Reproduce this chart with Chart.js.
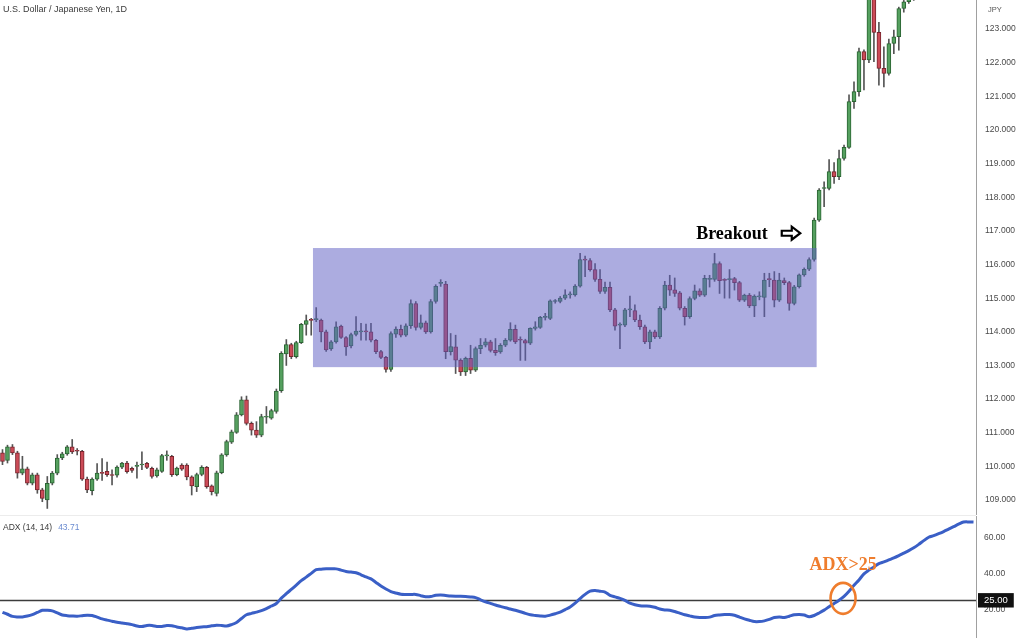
<!DOCTYPE html>
<html><head><meta charset="utf-8">
<script src="https://cdn.jsdelivr.net/npm/chart.js@4.4.1/dist/chart.umd.min.js"></script>
<style>
html,body{margin:0;padding:0;background:#fff;width:1024px;height:638px;overflow:hidden;font-family:"Liberation Sans",Arial,sans-serif}
#top{position:absolute;left:0;top:0;width:1024px;height:515px}
#bot{position:absolute;left:0;top:516px;width:1024px;height:122px}
#sep{position:absolute;left:0;top:515px;width:976px;height:1px;background:#ececec}
.lbl{position:absolute;font-size:9px;color:#3a3a3a;white-space:nowrap;line-height:10px}
</style></head><body>
<div id="top"><canvas id="c1"></canvas></div>
<div id="sep"></div>
<div id="bot"><canvas id="c2"></canvas></div>
<div class="lbl" style="left:3px;top:4px">U.S. Dollar / Japanese Yen, 1D</div>
<div class="lbl" style="left:988px;top:5px;font-size:7.5px;color:#555">JPY</div>
<div class="lbl" style="left:3px;top:522px;font-size:8.5px">ADX (14, 14)<span style="color:#6a8bd0;margin-left:6px">43.71</span></div>
<script>
// ---- data ----
const open = [110.40,110.18,110.58,110.40,109.80,109.93,109.50,109.75,109.30,109.00,
109.50,109.80,110.25,110.37,110.58,110.46,110.45,109.62,109.28,109.62,
109.80,109.85,109.74,109.74,109.98,110.10,109.94,110.00,110.04,110.09,
109.94,109.72,109.85,110.31,110.30,109.75,110.04,110.04,109.69,109.40,
109.76,109.97,109.42,109.20,109.81,110.34,110.72,111.01,111.53,111.98,
111.28,111.08,110.93,111.46,111.43,111.63,112.25,113.34,113.62,113.26,
113.68,114.22,114.35,114.36,114.35,114.00,113.49,113.70,114.17,113.83,
113.58,113.92,114.00,114.01,114.00,113.75,113.41,113.24,112.88,113.93,
114.07,113.90,114.18,114.84,114.13,114.27,114.00,114.90,115.44,115.42,
113.41,113.55,113.16,112.81,113.21,112.86,113.50,113.60,113.70,113.45,
113.40,113.60,113.75,114.07,113.76,113.74,113.66,114.10,114.13,114.43,
114.40,114.90,114.90,115.00,115.10,115.10,115.36,116.14,116.12,115.85,
115.56,115.20,115.32,114.65,114.20,114.20,114.65,114.63,114.35,114.15,
113.70,114.00,113.85,114.70,115.39,115.25,115.16,114.70,114.45,114.99,
115.22,115.09,115.56,115.56,116.03,115.54,115.55,115.58,115.46,114.94,
115.09,114.77,115.04,115.02,115.56,115.54,114.94,115.52,115.46,114.84,
115.34,115.69,115.86,116.15,117.32,118.26,118.26,118.76,118.61,119.15,
119.48,120.84,121.14,122.33,122.08,124.10,122.90,121.83,121.68,122.57,
122.77,123.61,123.81,123.95,null,null,null,null,null,null,
null,null,null,null,null,null];
const high = [110.50,110.63,110.65,110.45,110.30,109.98,109.80,109.80,109.35,109.70,
109.85,110.35,110.42,110.62,110.80,110.53,110.48,109.68,109.66,110.08,
110.23,110.13,109.90,110.02,110.12,110.15,109.98,110.13,110.43,110.12,
109.98,109.95,110.36,110.46,110.33,109.98,110.08,110.08,109.72,109.80,
110.02,110.00,109.45,109.86,110.38,110.78,111.08,111.60,112.07,112.09,
111.32,111.33,111.55,111.78,111.70,112.30,113.41,113.77,113.66,113.72,
114.25,114.50,114.40,114.72,114.38,114.05,113.74,114.30,114.20,113.86,
113.96,114.45,114.25,114.23,114.25,113.78,113.45,113.27,114.00,114.15,
114.20,114.24,114.95,114.90,114.50,114.32,114.96,115.40,115.55,115.50,
113.95,113.90,113.20,113.25,113.60,113.55,113.80,113.80,113.75,113.80,
113.65,113.80,114.27,114.20,113.85,113.78,114.12,114.30,114.46,114.55,
114.95,114.96,115.05,115.25,115.19,115.40,116.33,116.25,116.18,116.03,
115.85,115.48,115.48,114.70,114.27,114.70,115.06,114.80,114.50,114.20,
114.05,114.05,114.75,115.50,115.68,115.60,115.20,114.75,115.04,115.39,
115.28,115.68,115.68,116.33,116.08,115.58,115.85,115.62,115.50,115.12,
115.14,115.10,115.19,115.74,115.74,115.79,115.74,115.60,115.50,115.38,
115.72,115.90,116.20,117.38,118.26,118.46,119.12,119.03,119.40,119.55,
121.04,121.43,122.43,122.38,124.20,124.30,123.20,122.47,122.70,122.97,
123.65,123.85,124.10,124.20,null,null,null,null,null,null,
null,null,null,null,null,null];
const low = [110.05,110.10,110.35,109.65,109.75,109.45,109.45,109.20,108.95,108.75,
109.45,109.75,110.20,110.33,110.38,110.34,109.58,109.22,109.15,109.58,
109.58,109.70,109.45,109.68,109.93,109.80,109.82,109.65,109.90,109.93,
109.65,109.68,109.82,110.18,109.70,109.72,109.88,109.60,109.15,109.25,
109.72,109.35,109.15,109.12,109.78,110.30,110.68,110.98,111.50,111.23,
110.93,110.86,110.88,111.28,111.40,111.58,112.20,113.00,113.20,113.22,
113.65,113.90,113.90,114.30,113.70,113.42,113.45,113.66,113.80,113.30,
113.52,113.88,113.75,113.75,113.70,113.35,113.20,112.80,112.82,113.83,
113.85,113.86,114.10,114.05,114.08,113.95,113.96,114.85,115.35,113.20,
113.31,112.76,112.70,112.70,112.76,112.82,113.35,113.55,113.40,113.30,
113.36,113.56,113.72,113.65,113.15,113.15,113.62,114.05,114.10,114.35,
114.36,114.85,114.86,114.96,115.00,115.06,115.33,115.64,115.80,115.50,
115.14,115.14,114.60,114.05,113.50,114.15,114.45,114.30,114.07,113.65,
113.50,113.80,113.80,114.65,115.08,115.05,114.65,114.20,114.40,114.95,
115.05,115.05,115.33,115.50,115.14,115.00,115.00,115.24,114.90,114.90,
114.72,114.45,114.95,114.45,115.34,114.74,114.90,115.40,114.64,114.80,
115.30,115.65,115.82,116.10,117.28,117.72,118.22,118.41,118.52,119.10,
119.45,120.64,121.00,121.19,122.00,122.03,121.33,121.28,121.63,122.27,
122.37,123.50,123.76,123.85,null,null,null,null,null,null,
null,null,null,null,null,null];
const close = [110.15,110.58,110.40,109.80,109.93,109.50,109.75,109.30,109.05,109.50,
109.80,110.25,110.37,110.58,110.43,110.45,109.62,109.30,109.62,109.80,
109.79,109.75,109.73,109.98,110.10,109.84,109.88,110.01,110.05,109.97,
109.70,109.90,110.32,110.32,109.75,109.95,109.92,109.69,109.42,109.76,
109.97,109.40,109.25,109.81,110.34,110.74,111.03,111.53,111.98,111.28,
111.08,110.93,111.48,111.47,111.66,112.24,113.36,113.62,113.26,113.68,
114.22,114.33,114.34,114.37,114.00,113.46,113.70,114.15,113.83,113.55,
113.92,114.02,114.01,114.00,113.75,113.41,113.24,112.88,113.95,114.08,
113.90,114.18,114.84,114.13,114.27,114.00,114.90,115.35,115.45,113.41,
113.56,113.16,112.81,113.21,112.86,113.50,113.60,113.70,113.45,113.38,
113.60,113.75,114.07,113.70,113.75,113.66,114.10,114.15,114.43,114.44,
114.92,114.93,115.00,115.10,115.11,115.36,116.15,116.13,115.85,115.56,
115.20,115.32,114.65,114.17,114.21,114.65,114.66,114.35,114.15,113.70,
114.00,113.85,114.70,115.39,115.24,115.14,114.70,114.45,114.99,115.22,
115.09,115.59,115.57,116.03,115.52,115.53,115.56,115.46,114.94,115.09,
114.77,115.06,115.05,115.54,115.55,114.94,115.54,115.46,114.84,115.34,
115.69,115.86,116.15,117.32,118.21,118.27,118.76,118.61,119.15,119.48,
120.84,121.14,122.33,122.08,124.10,122.90,121.83,121.68,122.57,122.77,
123.61,123.81,123.95,124.10,null,null,null,null,null,null,
null,null,null,null,null,null];
const adx = [18.3,17.2,16.0,15.7,15.7,16.2,17.0,18.2,19.4,19.4,
19.1,18.0,16.8,16.4,16.2,16.1,16.4,16.7,16.5,15.6,
14.6,13.9,13.3,12.7,12.3,11.9,11.4,10.6,10.3,10.9,
10.9,10.4,10.4,10.9,10.8,10.1,9.6,9.0,9.3,9.8,
10.1,10.2,10.7,11.1,10.9,10.6,11.4,12.6,14.8,16.9,
17.7,18.4,19.2,20.4,21.8,23.2,26.2,28.7,31.1,33.5,
36.0,38.0,40.1,42.2,42.4,42.6,42.6,42.6,41.9,41.1,
40.8,40.4,39.3,38.1,37.0,35.0,33.0,31.3,29.9,29.1,
28.4,28.3,28.3,28.3,27.6,27.0,27.1,27.8,28.0,27.7,
27.4,27.3,27.3,27.2,26.9,26.5,25.3,24.2,23.3,22.4,
21.6,20.8,20.1,19.4,18.6,17.7,16.9,16.5,16.2,16.1,
16.7,17.5,18.4,19.8,21.3,23.4,26.0,28.3,30.2,30.5,
30.1,29.6,27.8,26.9,26.1,25.0,23.4,22.5,22.0,21.8,
21.7,21.1,20.1,19.6,19.4,18.7,17.8,16.9,16.3,15.7,
15.4,15.4,15.6,16.5,16.8,17.0,17.1,16.6,15.6,14.6,
13.8,13.1,13.1,13.5,14.3,15.4,15.6,15.4,16.1,16.9,
17.1,16.8,15.8,16.5,17.9,19.5,21.4,23.2,25.0,27.2,
30.1,33.4,36.4,39.8,41.9,43.7,45.5,46.5,47.6,48.7,
50.0,51.4,52.8,54.4,56.3,58.4,60.3,61.2,62.3,63.5,
64.9,66.2,67.6,68.8,68.9,68.8];
const categories = adx.map((_, i) => 'Day ' + (i + 1));
const priceTicks = [109,110,111,112,113,114,115,116,117,118,119,120,121,122,123];
const adxTicks = [20,25,40,60];
const adxLevel = 25;
// consolidation box and annotations, in data units (category index, value)
const rangeBox = {from: 62.35, to: 163.5, low: 112.95, high: 116.49};
const breakoutNote = {text: 'Breakout', at: 146.5, price: 116.93, arrowAt: 158.3};
const adxNote = {text: 'ADX>25', at: 168.8, value: 44.4, ringValue: 26.1};

// ---- styles ----
const UP = '#55a05f', UP_B = '#2b6433', DN = '#cc4b57', DN_B = '#77252d', WICK = '#555555';
const up = close.map((c, i) => c >= open[i]);
const isLevel = c => !!(c.tick && c.tick.value === adxLevel);

function fixAxis(s) { s.width = 48; s.paddingTop = 0; s.paddingBottom = 0; }

const boxPlugin = {
  id: 'boxPlugin',
  afterDatasetsDraw(chart) {
    const {ctx, scales: {x, y}} = chart;
    const x0 = x.getPixelForValue(rangeBox.from), x1 = x.getPixelForValue(rangeBox.to);
    const y0 = y.getPixelForValue(rangeBox.high), y1 = y.getPixelForValue(rangeBox.low);
    ctx.save();
    ctx.fillStyle = 'rgba(96,96,196,0.52)';
    ctx.fillRect(x0, y0, x1 - x0, y1 - y0);
    const ty = y.getPixelForValue(breakoutNote.price);
    ctx.fillStyle = '#000';
    ctx.font = 'bold 18px "Liberation Serif", "Times New Roman", serif';
    ctx.textAlign = 'center'; ctx.textBaseline = 'middle';
    ctx.fillText(breakoutNote.text, x.getPixelForValue(breakoutNote.at), ty + 1);
    const ax = x.getPixelForValue(breakoutNote.arrowAt);
    ctx.beginPath();
    ctx.moveTo(ax - 9, ty - 2.5); ctx.lineTo(ax + 1, ty - 2.5); ctx.lineTo(ax + 1, ty - 6.5);
    ctx.lineTo(ax + 9.5, ty); ctx.lineTo(ax + 1, ty + 6.5); ctx.lineTo(ax + 1, ty + 2.5);
    ctx.lineTo(ax - 9, ty + 2.5); ctx.closePath();
    ctx.fillStyle = '#fff'; ctx.fill();
    ctx.lineWidth = 2.2; ctx.strokeStyle = '#000'; ctx.lineJoin = 'miter'; ctx.stroke();
    ctx.restore();
  }
};

new Chart(document.getElementById('c1'), {
  type: 'bar',
  data: {
    labels: categories,
    datasets: [
      {
        data: open.map((o, i) => o == null ? null : [o, close[i]]),
        backgroundColor: up.map(u => u ? UP : DN),
        borderColor: up.map(u => u ? UP_B : DN_B),
        borderWidth: 1, borderSkipped: false, barThickness: 4, minBarLength: 1, grouped: false
      },
      {
        data: low.map((l, i) => l == null ? null : [l, high[i]]),
        backgroundColor: WICK, borderWidth: 0, barThickness: 1, grouped: false
      }
    ]
  },
  options: {
    responsive: true, maintainAspectRatio: false, animation: false,
    layout: {padding: 0},
    plugins: {legend: {display: false}, tooltip: {enabled: false}},
    scales: {
      x: {display: false, offset: true, grid: {display: false}},
      y: {
        position: 'right', min: 108.555, max: 123.862,
        afterBuildTicks: s => { s.ticks = priceTicks.map(v => ({value: v})); },
        afterFit: fixAxis,
        grid: {display: false, drawTicks: false},
        border: {display: true, color: '#a0a0a0', width: 1},
        ticks: {padding: 9, autoSkip: false, color: '#4a4a4a',
          font: {size: 8.5, family: '"Liberation Sans", Arial, sans-serif'},
          callback: v => Number(v).toFixed(3)}
      }
    }
  },
  plugins: [boxPlugin]
});

const adxPlugin = {
  id: 'adxPlugin',
  beforeDatasetsDraw(chart) {
    const {ctx, chartArea, scales: {y}} = chart;
    const py = Math.round(y.getPixelForValue(adxLevel)) + 0.5;
    ctx.save();
    ctx.strokeStyle = '#3c3c3c'; ctx.lineWidth = 1.3;
    ctx.beginPath(); ctx.moveTo(chartArea.left, py); ctx.lineTo(chartArea.right, py); ctx.stroke();
    ctx.restore();
  },
  afterDatasetsDraw(chart) {
    const {ctx, scales: {x, y}} = chart;
    const cx = x.getPixelForValue(adxNote.at);
    ctx.save();
    ctx.strokeStyle = '#ef7d2d'; ctx.lineWidth = 2.6;
    ctx.beginPath(); ctx.ellipse(cx, y.getPixelForValue(adxNote.ringValue), 12.5, 15.5, 0, 0, Math.PI * 2); ctx.stroke();
    ctx.fillStyle = '#ef7d2d';
    ctx.font = 'bold 18px "Liberation Serif", "Times New Roman", serif';
    ctx.textAlign = 'center'; ctx.textBaseline = 'middle';
    ctx.fillText(adxNote.text, cx, y.getPixelForValue(adxNote.value));
    ctx.restore();
  }
};

new Chart(document.getElementById('c2'), {
  type: 'line',
  data: {
    labels: categories,
    datasets: [{data: adx, borderColor: '#3a5fc6', borderWidth: 3, pointRadius: 0, tension: 0.3, fill: false}]
  },
  options: {
    responsive: true, maintainAspectRatio: false, animation: false,
    layout: {padding: 0},
    plugins: {legend: {display: false}, tooltip: {enabled: false}},
    scales: {
      x: {display: false, offset: true, grid: {display: false}},
      y: {
        position: 'right', min: 3.9, max: 72.2,
        afterBuildTicks: s => { s.ticks = adxTicks.map(v => ({value: v})); },
        afterFit: fixAxis,
        grid: {display: false, drawTicks: false},
        border: {display: true, color: '#a0a0a0', width: 1},
        ticks: {padding: 8, autoSkip: false,
          color: c => isLevel(c) ? '#ffffff' : '#4a4a4a',
          showLabelBackdrop: c => isLevel(c),
          backdropColor: c => isLevel(c) ? '#111111' : 'rgba(0,0,0,0)',
          backdropPadding: {left: 6, right: 6, top: 1.5, bottom: 1.5},
          font: c => ({size: isLevel(c) ? 9.5 : 8.5, family: '"Liberation Sans", Arial, sans-serif'}),
          callback: v => Number(v).toFixed(2)}
      }
    }
  },
  plugins: [adxPlugin]
});
</script>
</body></html>
